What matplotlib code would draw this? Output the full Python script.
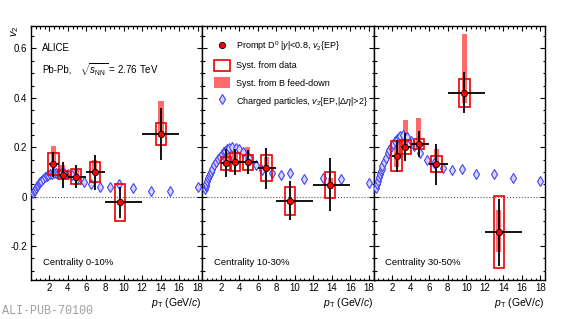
import numpy as np
import matplotlib.pyplot as plt
from matplotlib.patches import Rectangle, Patch
from matplotlib.lines import Line2D
from matplotlib.ticker import MultipleLocator, FixedLocator, FuncFormatter

plt.rcParams['font.family'] = ['Liberation Sans', 'DejaVu Sans']
plt.rcParams['mathtext.fontset'] = 'custom'
plt.rcParams['mathtext.rm'] = 'Liberation Sans'
plt.rcParams['mathtext.it'] = 'Liberation Sans:italic'
plt.rcParams['axes.unicode_minus'] = False

W, H = 566, 319

centralities = ["Centrality 0-10%", "Centrality 10-30%", "Centrality 30-50%"]

# prompt D0, pT bins and mean pT
d_lo = [2, 3, 4, 6, 8, 12]
d_hi = [3, 4, 6, 8, 12, 16]
d_pt = [[2.43, 3.45, 4.90, 6.88, 9.60, 14.05],
        [2.57, 3.54, 4.90, 6.93, 9.43, 13.80],
        [2.47, 3.44, 4.88, 6.78, 9.80, 13.50]]
d_v2 = [[0.131, 0.088, 0.081, 0.099, -0.023, 0.253],
        [0.135, 0.140, 0.140, 0.116, -0.016, 0.049],
        [0.166, 0.202, 0.213, 0.131, 0.420, -0.144]]
d_stat = [[0.050, 0.052, 0.047, 0.071, 0.062, 0.105],
          [0.057, 0.054, 0.050, 0.083, 0.080, 0.106],
          [0.065, 0.057, 0.053, 0.083, 0.083, 0.135]]
# syst. from data (half height)
d_syst = [[0.044, 0.018, 0.030, 0.040, 0.075, 0.045],
          [0.025, 0.035, 0.030, 0.054, 0.057, 0.053],
          [0.060, 0.028, 0.020, 0.032, 0.056, 0.145]]
# syst. from B feed-down (low, high)
fd_low = [[0.125, 0.085, 0.078, 0.095, -0.030, 0.240],
          [0.130, 0.135, 0.135, 0.110, -0.030, 0.030],
          [0.120, 0.190, 0.200, 0.125, 0.380, -0.223]]
fd_high = [[0.206, 0.128, 0.111, 0.149, -0.015, 0.387],
           [0.200, 0.202, 0.202, 0.160, -0.010, 0.075],
           [0.230, 0.310, 0.320, 0.192, 0.659, -0.054]]

# charged particles v2{EP,|deta|>2}
ch_pt = [0.25, 0.35, 0.45, 0.55, 0.65, 0.75, 0.85, 0.95, 1.1, 1.3, 1.5, 1.7, 1.9,
         2.1, 2.3, 2.5, 2.7, 2.9, 3.2, 3.6, 4.0, 4.4, 5.0, 5.75, 6.5, 7.5, 8.5,
         9.5, 11, 13, 15, 18]
ch_v2 = [[0.015, 0.022, 0.029, 0.036, 0.042, 0.048, 0.054, 0.059, 0.065, 0.072, 0.078,
          0.083, 0.087, 0.090, 0.092, 0.094, 0.095, 0.096, 0.096, 0.094, 0.091, 0.086,
          0.072, 0.058, 0.051, 0.040, 0.041, 0.050, 0.036, 0.025, 0.024, 0.040],
         [0.030, 0.042, 0.053, 0.064, 0.074, 0.084, 0.093, 0.102, 0.113, 0.127, 0.140,
          0.152, 0.162, 0.171, 0.179, 0.186, 0.192, 0.196, 0.200, 0.199, 0.192, 0.180,
          0.158, 0.130, 0.110, 0.095, 0.088, 0.095, 0.072, 0.077, 0.070, 0.057],
         [0.035, 0.050, 0.064, 0.078, 0.091, 0.103, 0.114, 0.125, 0.140, 0.158, 0.175,
          0.190, 0.203, 0.215, 0.226, 0.235, 0.242, 0.247, 0.248, 0.240, 0.225, 0.205,
          0.178, 0.150, 0.135, 0.115, 0.108, 0.111, 0.091, 0.091, 0.074, 0.065]]

def px(x, y):
    return x / W, 1 - y / H

fig, axs = plt.subplots(1, 3, figsize=(W / 100, H / 100), dpi=100, sharey=True)
fig.subplots_adjust(left=30.9 / W, right=545 / W, bottom=1 - 280 / H, top=1 - 25.7 / H, wspace=0)

box_w = 0.55
fill_w = 0.28
for k, ax in enumerate(axs):
    ax.axhline(0, color='#555555', ls=':', lw=0.8, zorder=1)
    ax.plot(ch_pt, ch_v2[k], ls='none', marker='d', ms=5.5, mfc='#d4d4ff', mec='#4444f0',
            mew=0.8, zorder=3)
    for i in range(len(d_pt[k])):
        ax.add_patch(Rectangle((d_pt[k][i] - fill_w, fd_low[k][i]), 2 * fill_w,
                               fd_high[k][i] - fd_low[k][i], fc='#ff6a6a', ec='none', zorder=2))
        ax.add_patch(Rectangle((d_pt[k][i] - box_w, d_v2[k][i] - d_syst[k][i]), 2 * box_w,
                               2 * d_syst[k][i], fill=False, ec='#ee0000', lw=1.2, zorder=4))
    pt = np.array(d_pt[k])
    xerr = [pt - np.array(d_lo), np.array(d_hi) - pt]
    ax.errorbar(pt, d_v2[k], yerr=d_stat[k], xerr=xerr, fmt='none', ecolor='black',
                elinewidth=1.3, capsize=0, zorder=5)
    ax.plot(pt, d_v2[k], ls='none', marker='o', ms=4.5, mfc='red', mec='black', mew=0.6, zorder=6)

    ax.set_xlim(0, 18.5)
    ax.set_ylim(-0.337, 0.692)
    ax.xaxis.set_major_locator(FixedLocator(range(2, 19, 2)))
    ax.xaxis.set_minor_locator(MultipleLocator(0.5))
    ax.yaxis.set_major_locator(MultipleLocator(0.2))
    ax.yaxis.set_minor_locator(MultipleLocator(0.05))
    ax.yaxis.set_major_formatter(FuncFormatter(lambda v, _: '%g' % round(v, 2)))
    ax.tick_params(which='both', direction='in', top=True, right=True, width=0.8,
                   labelsize=7, pad=2.5)
    ax.tick_params(which='major', length=3.6)
    ax.tick_params(which='minor', length=1.8)
    if k > 0:
        ax.tick_params(labelleft=False)
    for s in ax.spines.values():
        s.set_linewidth(1.0)
    ax.text(0.068, 0.067, centralities[k], transform=ax.transAxes, va='center', fontsize=6.8)
    r = ax.get_position().x1
    fig.text(r, 1 - 302.5 / H, r'$p_{\rm T}$ (GeV/$c$)', ha='right', va='center', fontsize=7.5)

fig.text(*px(15, 31), r'$v_2$', rotation=90, ha='center', va='center', fontsize=8)
fig.text(*px(42, 48), 'ALICE', va='center', fontsize=7)
fig.text(*px(42, 70), 'Pb-Pb,', va='center', fontsize=7)
fig.text(*px(80, 70), r'$\sqrt{s_{\rm NN}}$ = 2.76 TeV', va='center', fontsize=7)

handles = [Line2D([], [], ls='none', marker='o', ms=4.5, mfc='red', mec='black', mew=0.6),
           Patch(fc='none', ec='#ee0000', lw=1.2),
           Patch(fc='#ff6a6a', ec='none'),
           Line2D([], [], ls='none', marker='d', ms=5.5, mfc='#d4d4ff', mec='#4444f0', mew=0.8)]
labels = [r'Prompt D$^0$ |$y$|<0.8, $v_2${EP}',
          'Syst. from data',
          'Syst. from B feed-down',
          r'Charged particles, $v_2${EP,|$\Delta\eta$|>2}']
fig.legend(handles, labels, loc='upper left', bbox_to_anchor=px(214, 39.5), frameon=False,
           fontsize=6.5, handlelength=1.8, handleheight=1.5, handletextpad=0.6,
           labelspacing=0.72, borderpad=0, borderaxespad=0)

fig.text(*px(2, 311), 'ALI-PUB-70100', family='Liberation Mono', color='#a0a0a0',
         fontsize=8.5, va='center')

fig.savefig('out.png', dpi=100)
